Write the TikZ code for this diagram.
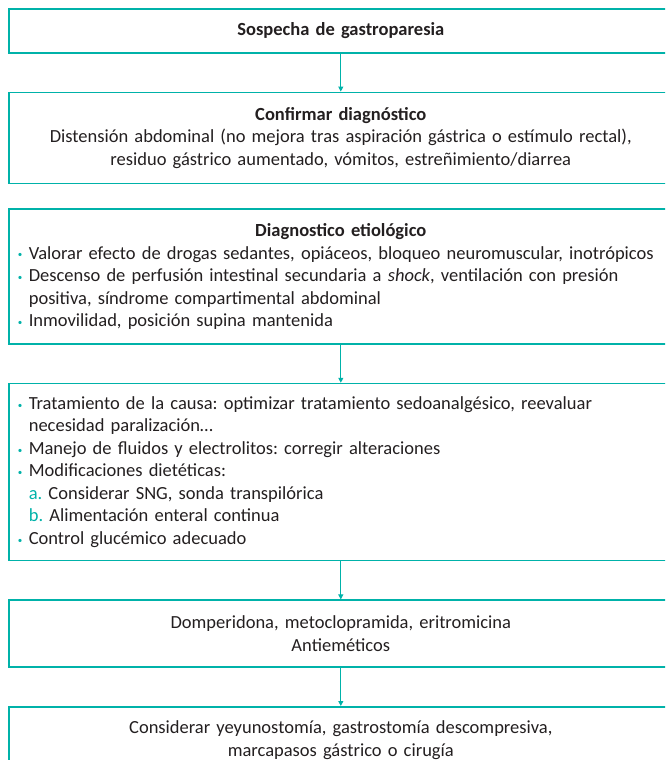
\documentclass[tikz,border=0pt]{standalone}
\usepackage{fontspec}
\setmainfont{Carlito}
\usetikzlibrary{positioning,arrows.meta}
\definecolor{tealbox}{RGB}{0,178,169}
\definecolor{inkgray}{RGB}{35,31,32}
\newcommand{\bul}{\makebox[11pt][l]{\textcolor{tealbox}{\raisebox{0.15ex}{\fontsize{9}{9}\selectfont\textbullet}}}}
\newcommand{\ind}{\hspace*{11pt}}
\newcommand{\headline}[1]{\makebox[646pt]{\bfseries #1}}
\frenchspacing
\begin{document}
\begin{tikzpicture}[x=1pt, y=1pt,
    box/.style={draw=tealbox, line width=1.6pt, minimum width=664pt, text width=646pt,
        inner xsep=9pt, inner ysep=0pt, font=\fontsize{18.5}{22.5}\selectfont, text=inkgray},
    arr/.style={draw=tealbox, line width=1pt, -{Triangle[length=5pt, width=5pt]}}]
    \def\gap{38pt} % space between boxes

    % Page frame
    \useasboundingbox (0,0) rectangle (665,-760);
    \clip (0,0) rectangle (665,-760);

    % Draw boxes
    \node[box, align=center, minimum height=44pt, anchor=north west] (sospecha) at (8,-8)
        {\bfseries Sospecha de gastroparesia};
    \node[box, align=center, minimum height=91pt, below=\gap of sospecha] (confirmar)
        {\textbf{Confirmar diagnóstico}\\
         Distensión abdominal (no mejora tras aspiración gástrica o estímulo rectal),\\
         residuo gástrico aumentado, vómitos, estreñimiento/diarrea};
    \node[box, align=left, minimum height=135pt, below=24pt of confirmar] (etiol)
        {\headline{Diagnostico etiológico}\\
         \bul Valorar efecto de drogas sedantes, opiáceos, bloqueo neuromuscular, inotrópicos\\
         \bul Descenso de perfusión intestinal secundaria a \textit{shock}, ventilación con presión\\
         \ind positiva, síndrome compartimental abdominal\\
         \bul Inmovilidad, posición supina mantenida};
    \node[box, align=left, minimum height=177pt, below=\gap of etiol] (trat)
        {\bul Tratamiento de la causa: optimizar tratamiento sedoanalgésico, reevaluar\\
         \ind necesidad paralización…\\
         \bul Manejo de fluidos y electrolitos: corregir alteraciones\\
         \bul Modificaciones dietéticas:\\
         \ind\textcolor{tealbox}{a.} Considerar SNG, sonda transpilórica\\
         \ind\textcolor{tealbox}{b.} Alimentación enteral continua\\
         \bul Control glucémico adecuado};
    \node[box, align=center, minimum height=67pt, below=\gap of trat] (procin)
        {Domperidona, metoclopramida, eritromicina\\ Antieméticos};
    \node[box, align=center, minimum height=67pt, below=\gap of procin] (cirug)
        {Considerar yeyunostomía, gastrostomía descompresiva,\\ marcapasos gástrico o cirugía};

    % Draw arrows
    \draw[arr] (sospecha) -- (confirmar);
    \draw[arr] (etiol) -- (trat);
    \draw[arr] (trat) -- (procin);
    \draw[arr] (procin) -- (cirug);
\end{tikzpicture}
\end{document}
